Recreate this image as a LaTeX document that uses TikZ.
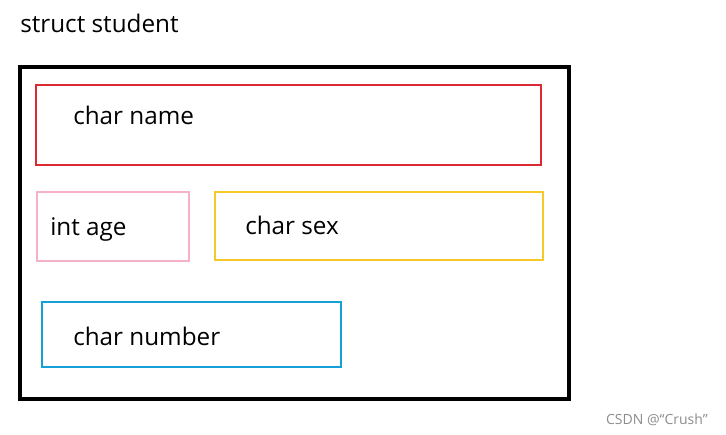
\documentclass[tikz,border=0pt]{standalone}
\usepackage{fontspec}
\setmainfont{Open Sans}
\usepackage{xcolor}
\usepackage{tikz}
\usetikzlibrary{positioning}
\definecolor{namered}{HTML}{DB2A31}
\definecolor{agepink}{HTML}{F4B1C9}
\definecolor{sexyellow}{HTML}{F6C928}
\definecolor{numblue}{HTML}{13A1D8}

\begin{document}
\begin{tikzpicture}[
  x=0.75pt, y=-0.75pt,
  font=\fontsize{18.2}{22}\selectfont,
  field/.style={draw=#1, line width=2.1pt, inner sep=0pt, outer sep=0pt},
  lbl/.style={anchor=base west, inner sep=0pt},
]
  \useasboundingbox (0,0) rectangle (726,435);

  % --- struct frame -----------------------------------------------
  \node[lbl] (title) at (20,33) {struct student};
  \node[draw=black, line width=2.3pt, inner sep=0pt,
        minimum width=549*0.75pt, minimum height=332*0.75pt] (frame) at (294.5,233) {};

  % --- members ----------------------------------------------------
  \node[field=namered, minimum width=505*0.75pt, minimum height=80*0.75pt] (name) at (288.5,125) {};
  \node[field=agepink, minimum width=152*0.75pt, minimum height=69*0.75pt] (age) at (113,226.5) {};
  \node[field=sexyellow, minimum width=328*0.75pt, minimum height=68*0.75pt] (sex) at (379,226) {};
  \node[field=numblue, minimum width=299*0.75pt, minimum height=65*0.75pt] (number) at (191.5,334.5) {};

  \node[lbl] (namelbl) at (73,125) {char name};
  \node[lbl] (agelbl) at (50,236) {int age};
  \node[lbl] (sexlbl) at (245,234) {char sex};
  \node[lbl] (numberlbl) at (73,345) {char number};

  \node[anchor=base east, inner sep=0pt, text=black!45,
        font=\fontsize{10.5}{12}\selectfont] (mark) at (708,424) {CSDN @“Crush”};
\end{tikzpicture}
\end{document}
